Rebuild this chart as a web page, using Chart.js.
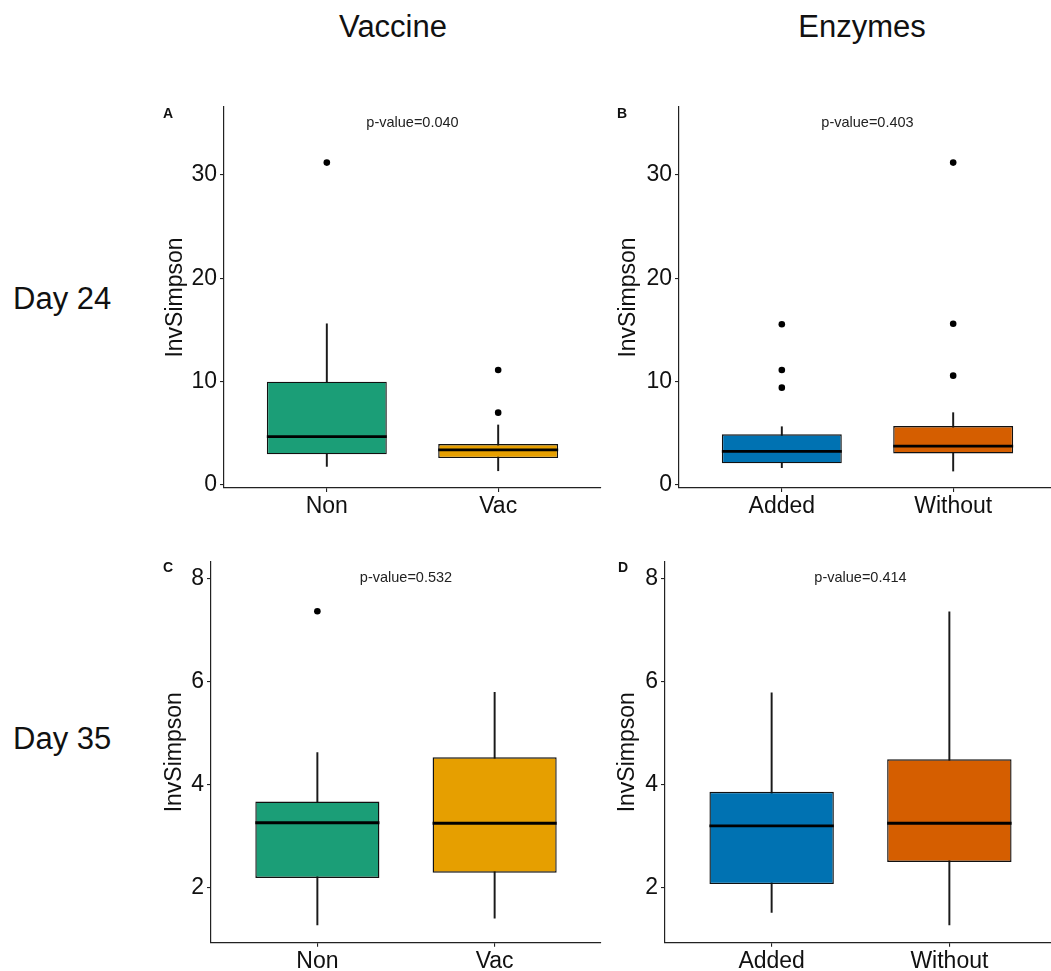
<!DOCTYPE html>
<html>
<head>
<meta charset="utf-8">
<script src="https://cdn.jsdelivr.net/npm/chart.js@4.4.1/dist/chart.umd.min.js"></script>
<style>
html, body { margin:0; padding:0; background:#fff; overflow:hidden; width:1051px; height:971px; }
body { position:relative; font-family:"Liberation Sans", Arial, sans-serif; color:#111; }
.lbl { position:absolute; white-space:nowrap; line-height:1; }
.col { font-size:31px; transform:translateX(-50%); }
.row { font-size:31px; }
.tag { font-size:14px; font-weight:bold; }
.panel { position:absolute; }
</style>
</head>
<body>
<div class="lbl col" style="left:393px;top:11px">Vaccine</div>
<div class="lbl col" style="left:862px;top:11px">Enzymes</div>
<div class="lbl row" style="left:13px;top:283px">Day 24</div>
<div class="lbl row" style="left:13px;top:723px">Day 35</div>

<canvas id="chartA" class="panel" width="465" height="440" style="left:140px;top:90px"></canvas>
<canvas id="chartB" class="panel" width="465" height="440" style="left:600px;top:90px"></canvas>
<canvas id="chartC" class="panel" width="465" height="440" style="left:140px;top:545px"></canvas>
<canvas id="chartD" class="panel" width="465" height="440" style="left:600px;top:545px"></canvas>

<div class="lbl tag" style="left:163px;top:106px">A</div>
<div class="lbl tag" style="left:617px;top:106px">B</div>
<div class="lbl tag" style="left:163px;top:560px">C</div>
<div class="lbl tag" style="left:618px;top:560px">D</div>

<script>
var FONT = '"Liberation Sans", Arial, sans-serif';

// groups and axis ticks
var vaccineGroups = ['Non', 'Vac'];
var enzymeGroups = ['Added', 'Without'];
var vaccineColors = ['#1B9E77', '#E69F00'];
var enzymeColors = ['#0072B2', '#D55E00'];
var day24Ticks = [0, 10, 20, 30];
var day35Ticks = [2, 4, 6, 8];

// A: day 24, vaccine (p=0.040)
var aLow = [1.8, 1.38];
var aQ1 = [2.97, 2.61];
var aMedian = [4.68, 3.39];
var aQ3 = [10.0, 3.97];
var aHigh = [15.6, 5.81];
var aOutliers = [[31.2], [7.0, 11.13]];

// B: day 24, enzymes (p=0.403)
var bLow = [1.68, 1.35];
var bQ1 = [2.1, 3.06];
var bMedian = [3.26, 3.77];
var bQ3 = [4.9, 5.71];
var bHigh = [5.64, 7.0];
var bOutliers = [[9.42, 11.13, 15.55], [10.58, 15.6, 31.2]];

// C: day 35, vaccine (p=0.532)
var cLow = [1.28, 1.41];
var cQ1 = [2.19, 2.29];
var cMedian = [3.26, 3.25];
var cQ3 = [3.67, 4.53];
var cHigh = [4.62, 5.79];
var cOutliers = [[7.36], []];

// D: day 35, enzymes (p=0.414)
var dLow = [1.52, 1.28];
var dQ1 = [2.07, 2.5];
var dMedian = [3.2, 3.25];
var dQ3 = [3.86, 4.49];
var dHigh = [5.78, 7.35];
var dOutliers = [[], []];

var pvaluePlugin = {
    id: 'pvalue',
    afterDraw: function (chart, args, opts) {
        var ctx = chart.ctx;
        ctx.save();
        ctx.font = '14.5px ' + FONT;
        ctx.fillStyle = '#222';
        ctx.textAlign = 'center';
        ctx.textBaseline = 'middle';
        ctx.fillText(opts.text, chart.scales.x.getPixelForValue(1.5), chart.scales.y.getPixelForValue(opts.y));
        ctx.restore();
    }
};

function axisLook() {
    return {
        grid: { display: true, drawOnChartArea: false, drawTicks: true, tickLength: 4, color: '#222', lineWidth: 1.1, offset: false },
        border: { display: true, color: '#222', width: 1.2 }
    };
}

function boxPanel(id, groups, low, q1, med, q3, high, outliers, colors, yRange, yTicks, pText, pY, geo) {
    var boxes = [], whiskers = [], medians = [], dots = [];
    groups.forEach(function (g, i) {
        boxes.push({ x: i + 1, y: [q1[i], q3[i]] });
        whiskers.push({ x: i + 1, y: [low[i], high[i]] });
        medians.push({ x: i + 1, y: med[i] });
        outliers[i].forEach(function (v) { dots.push({ x: i + 1, y: v }); });
    });
    var xLook = axisLook(), yLook = axisLook();

    return new Chart(document.getElementById(id), {
        type: 'bar',
        data: {
            datasets: [
                {
                    type: 'scatter', data: medians, order: 0,
                    pointStyle: 'line', pointBorderColor: '#000', pointBorderWidth: 2.8,
                    pointRadius: function (ctx) {
                        var x = ctx.chart.scales.x;
                        return 0.35 * (x.getPixelForValue(2) - x.getPixelForValue(1));
                    }
                },
                {
                    type: 'scatter', data: dots, order: 0,
                    pointStyle: 'circle', pointRadius: 3.3, pointBorderWidth: 0,
                    pointBackgroundColor: '#000', pointBorderColor: '#000'
                },
                {
                    data: boxes, order: 1, grouped: false,
                    backgroundColor: colors, borderColor: '#111', borderWidth: 1.4, borderSkipped: false,
                    barPercentage: 0.7, categoryPercentage: 1
                },
                {
                    data: whiskers, order: 2, grouped: false,
                    backgroundColor: '#1a1a1a', barThickness: 1.3
                }
            ]
        },
        options: {
            responsive: false,
            animation: false,
            events: [],
            layout: { padding: geo.pad },
            plugins: {
                legend: { display: false },
                tooltip: { enabled: false },
                pvalue: { text: pText, y: pY }
            },
            scales: {
                x: {
                    type: 'linear', min: 0.4, max: 2.6, offset: false,
                    grid: xLook.grid, border: xLook.border,
                    ticks: {
                        autoSkip: false, maxRotation: 0, padding: 1, color: '#111',
                        font: { size: 23, family: FONT },
                        callback: function (v) { return groups[v - 1]; }
                    },
                    afterBuildTicks: function (s) { s.ticks = groups.map(function (g, i) { return { value: i + 1 }; }); },
                    afterFit: function (s) { s.height = geo.xH; }
                },
                y: {
                    type: 'linear', min: yRange[0], max: yRange[1],
                    grid: yLook.grid, border: yLook.border,
                    ticks: {
                        padding: 3, color: '#111',
                        font: { size: 23, family: FONT },
                        callback: function (v) { return String(v); }
                    },
                    afterBuildTicks: function (s) { s.ticks = yTicks.map(function (v) { return { value: v }; }); },
                    afterFit: function (s) { s.width = geo.yW; },
                    title: {
                        display: true, text: 'InvSimpson', color: '#111',
                        font: { size: 23, family: FONT },
                        padding: { top: geo.tp, bottom: 0 }
                    }
                }
            }
        },
        plugins: [pvaluePlugin]
    });
}

boxPanel('chartA', vaccineGroups, aLow, aQ1, aMedian, aQ3, aHigh, aOutliers, vaccineColors,
    [-0.29, 36.58], day24Ticks, 'p-value=0.040', 35,
    { pad: { left: 10, top: 17, right: 3, bottom: 0 }, yW: 74, xH: 42, tp: 12 });
boxPanel('chartB', enzymeGroups, bLow, bQ1, bMedian, bQ3, bHigh, bOutliers, enzymeColors,
    [-0.29, 36.58], day24Ticks, 'p-value=0.403', 35,
    { pad: { left: 5, top: 17, right: 9, bottom: 0 }, yW: 74, xH: 42, tp: 10 });
boxPanel('chartC', vaccineGroups, cLow, cQ1, cMedian, cQ3, cHigh, cOutliers, vaccineColors,
    [0.934, 8.32], day35Ticks, 'p-value=0.532', 8,
    { pad: { left: 10, top: 16.7, right: 2.5, bottom: 0 }, yW: 61, xH: 42.3, tp: 11 });
boxPanel('chartD', enzymeGroups, dLow, dQ1, dMedian, dQ3, dHigh, dOutliers, enzymeColors,
    [0.934, 8.32], day35Ticks, 'p-value=0.414', 8,
    { pad: { left: 5, top: 16.7, right: 9, bottom: 0 }, yW: 60, xH: 42.3, tp: 9 });
</script>
</body>
</html>
